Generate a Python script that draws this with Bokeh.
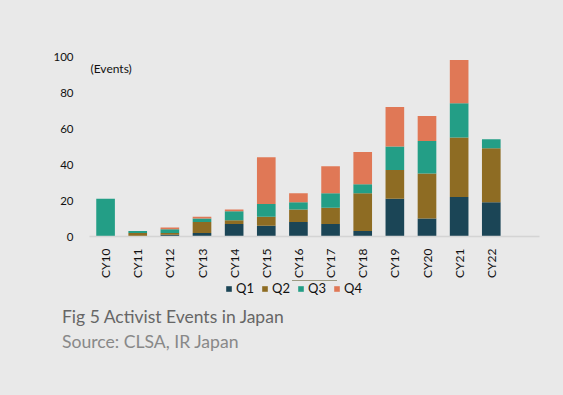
from bokeh.plotting import figure
from bokeh.models import Range1d, Legend, LegendItem, Label, FixedTicker, Div
from bokeh.layouts import column
from bokeh.embed import file_html
from bokeh.resources import INLINE
import math

years = ["CY10", "CY11", "CY12", "CY13", "CY14", "CY15", "CY16",
         "CY17", "CY18", "CY19", "CY20", "CY21", "CY22"]
q1 = [0, 0, 1, 2, 7, 6, 8, 7, 3, 21, 10, 22, 19]
q2 = [0, 2, 1, 6, 2, 5, 7, 9, 21, 16, 25, 33, 30]
q3 = [21, 1, 2, 2, 5, 7, 4, 8, 5, 13, 18, 19, 5]
q4 = [0, 0, 1, 1, 1, 26, 5, 15, 18, 22, 14, 24, 0]
series = ["Q1", "Q2", "Q3", "Q4"]
colors = ["#1B4556", "#8E6C23", "#239E86", "#E07856"]
y_ticks = [0, 20, 40, 60, 80, 100]
title_text = "Fig 5 Activist Events in Japan"
source_text = "Source: CLSA, IR Japan"
unit_text = "(Events)"

BG = "#E9E9E9"
FONT = "Lato"

xs = list(range(len(years)))
data = {"x": xs, "Q1": q1, "Q2": q2, "Q3": q3, "Q4": q4}

# ---- main chart ----
p = figure(width=563, height=280, output_backend="svg", toolbar_location=None,
           x_range=Range1d(-0.5, 13.5), y_range=Range1d(0, 100),
           min_border_left=89, min_border_right=24, min_border_top=56,
           min_border_bottom=42)
p.background_fill_color = BG
p.border_fill_color = BG
p.outline_line_color = None
p.grid.grid_line_color = None

p.vbar_stack(series, x="x", width=0.58, color=colors, source=data,
             line_color=None)

p.xaxis.ticker = FixedTicker(ticks=xs)
p.xaxis.major_label_overrides = {i: y for i, y in enumerate(years)}
p.xaxis.major_label_orientation = math.pi / 2
p.xaxis.major_tick_line_color = None
p.xaxis.minor_tick_line_color = None
p.xaxis.axis_line_color = "#D4D4D4"
p.xaxis.axis_line_width = 1.5
p.xaxis.major_label_text_font = FONT
p.xaxis.major_label_text_font_size = "12px"
p.xaxis.major_label_text_color = "#111111"
p.xaxis.major_label_standoff = 6

p.yaxis.ticker = FixedTicker(ticks=y_ticks)
p.yaxis.axis_line_color = None
p.yaxis.major_tick_line_color = None
p.yaxis.minor_tick_line_color = None
p.yaxis.major_label_text_font = FONT
p.yaxis.major_label_text_font_size = "11.5px"
p.yaxis.major_label_text_color = "#111111"
p.yaxis.major_label_standoff = 10

p.add_layout(Label(x=1, y=168, text=unit_text, x_units="screen", y_units="screen",
                   text_font=FONT, text_font_size="12px", text_color="#111111",
                   text_baseline="middle"))

# ---- legend strip ----
q = figure(width=563, height=20, output_backend="svg", toolbar_location=None,
           x_range=Range1d(0, 1), y_range=Range1d(0, 1),
           x_axis_type=None, y_axis_type=None,
           min_border_left=89, min_border_right=24, min_border_top=0,
           min_border_bottom=0)
q.background_fill_color = BG
q.border_fill_color = BG
q.outline_line_color = None
q.grid.grid_line_color = None

dummies = [q.vbar(x=[0.5], bottom=[5], top=[6], width=0.1, color=c, line_color=None)
           for c in colors]
legend = Legend(items=[LegendItem(label=s, renderers=[r]) for s, r in zip(series, dummies)],
                orientation="horizontal", location=(136, 4),
                background_fill_alpha=0, border_line_color=None,
                padding=0, margin=0, spacing=5, label_standoff=4,
                glyph_width=7, glyph_height=7,
                label_text_font=FONT, label_text_font_size="13px",
                label_text_color="#111111", label_height=15)
q.add_layout(legend, "center")

# ---- captions ----
cap_html = (
    '<div style="position:relative;width:563px;height:95px;">'
    '<div style="position:absolute;left:62px;top:8px;white-space:nowrap;'
    'font-family:Lato;font-size:17.5px;line-height:17.5px;color:#666666;">'
    + title_text + '</div>'
    '<div style="position:absolute;left:62px;top:33px;white-space:nowrap;'
    'font-family:Lato;font-size:17.6px;line-height:17.6px;color:#888888;">'
    + source_text + '</div></div>'
)
d = Div(text=cap_html, width=563, height=95, margin=0,
        styles={"background-color": BG})

layout = column(p, q, d, spacing=0)
html = file_html(layout, INLINE)
html = html.replace("<head>", "<head><style>body{background:#E9E9E9;}</style>", 1)
open("out.html", "w").write(html)
